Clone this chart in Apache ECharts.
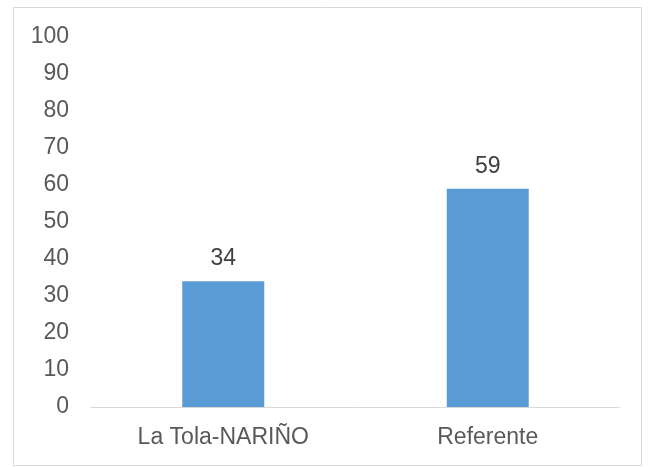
<!DOCTYPE html>
<html><head><meta charset="utf-8">
<script src="https://cdn.jsdelivr.net/npm/echarts@6/dist/echarts.min.js"></script>
<style>html,body{margin:0;padding:0;background:#fff}#c{width:652px;height:467px}</style>
</head><body><div id="c"></div>
<script>
var categories = ['La Tola-NARIÑO', 'Referente'];
var values = [34, 59];
var chart = echarts.init(document.getElementById('c'));
chart.setOption({
  animation: false,
  textStyle: {fontFamily: 'Liberation Sans, Arial, sans-serif'},
  graphic: [{type: 'rect', shape: {x: 13.5, y: 7.5, width: 628, height: 458}, style: {fill: 'none', stroke: '#d9d9d9', lineWidth: 1}, silent: true, z: -1}],
  grid: {left: 91, right: 32, top: 37, bottom: 60},
  xAxis: {type: 'category', data: categories,
    axisLine: {lineStyle: {color: '#d9d9d9', width: 1}}, axisTick: {show: false},
    axisLabel: {color: '#595959', fontSize: 23, margin: 19}},
  yAxis: {type: 'value', min: 0, max: 100, interval: 10,
    axisLine: {show: false}, axisTick: {show: false}, splitLine: {show: false},
    axisLabel: {color: '#595959', fontSize: 23, margin: 22}},
  series: [{type: 'bar', data: values, barWidth: '31%',
    itemStyle: {color: '#5b9bd5'},
    label: {show: true, position: 'top', distance: 11, color: '#404040', fontSize: 23}}]
});
</script></body></html>
